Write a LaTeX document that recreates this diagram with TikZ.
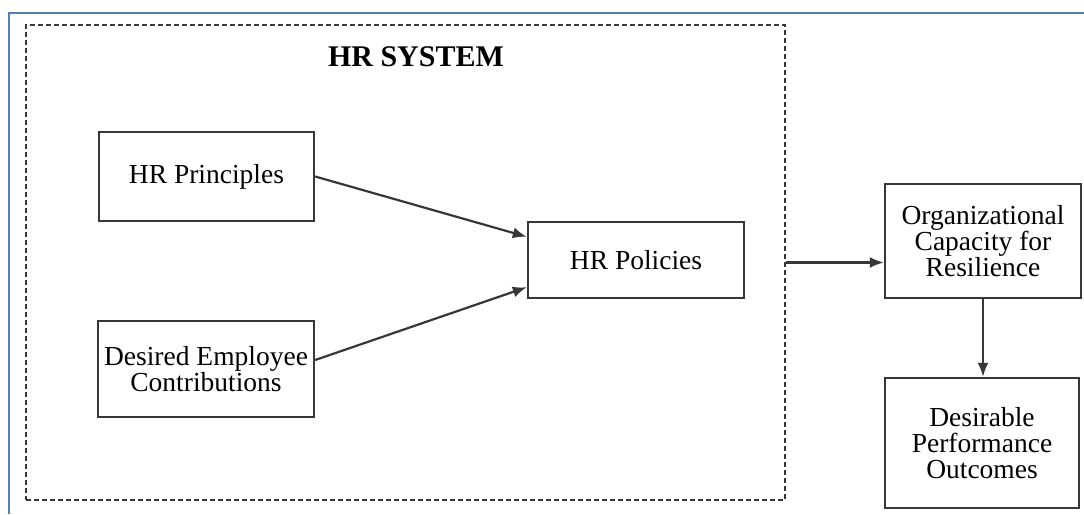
\documentclass[tikz,border=0pt]{standalone}
\usepackage{fontspec}
\setmainfont{Liberation Serif}
\usetikzlibrary{arrows.meta,calc}
\definecolor{framecol}{RGB}{79,129,189}
\definecolor{linecol}{RGB}{55,55,55}
\tikzset{
  block/.style={draw=linecol, line width=2.4pt, rectangle, align=center,
    font=\fontsize{27.5}{26}\selectfont, inner sep=0pt},
  conn/.style={draw=linecol, line width=2.2pt, -{Latex[length=14pt,width=11pt]}},
  sysbox/.style={draw=linecol, line width=2.4pt, dash pattern=on 5pt off 3pt, inner sep=0pt},
}
\begin{document}
\begin{tikzpicture}[x=1pt,y=-1pt]
  \useasboundingbox (0,0) rectangle (1084,514);
  % page frame
  \draw[framecol, line width=2.4pt] (9,514) -- (9,13) -- (1084,13);
  % HR system boundary
  \node[sysbox, minimum width=759pt, minimum height=475pt] (sys) at (405.5,262.5) {};
  \node[font=\fontsize{30}{30}\bfseries\selectfont] (title) at (416,57) {HR SYSTEM};
  % blocks
  \node[block, minimum width=215pt, minimum height=89pt] (prin) at (206.5,176.5) {HR Principles};
  \node[block, minimum width=216pt, minimum height=96pt] (desd) at (206,369) {Desired Employee\\Contributions};
  \node[block, minimum width=216pt, minimum height=76pt] (pol) at (636,260) {HR Policies};
  \node[block, minimum width=196pt, minimum height=114pt] (org) at (983,241) {Organizational\\Capacity for\\Resilience};
  \node[block, minimum width=194pt, minimum height=130pt] (perf) at (982,443) {Desirable\\Performance\\Outcomes};
  % connectors
  \draw[conn] (prin.east) -- ([yshift=-16pt]pol.north west);
  \draw[conn] ([yshift=9pt]desd.east) -- ([yshift=12pt]pol.south west);
  \draw[conn] (sys.east) -- (sys.east -| org.west);
  \draw[conn] (org.south) -- (org.south |- perf.north);
\end{tikzpicture}
\end{document}
